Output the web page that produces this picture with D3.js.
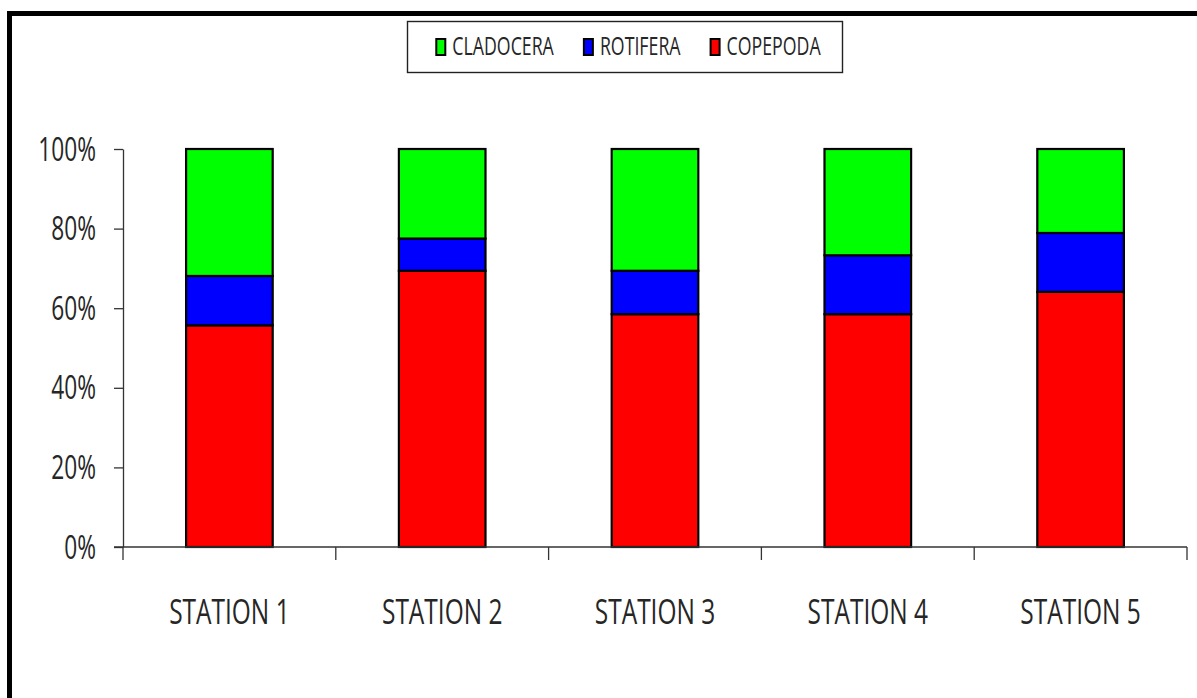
<!DOCTYPE html>
<html>
<head>
<meta charset="utf-8">
<script src="https://cdn.jsdelivr.net/npm/d3@7"></script>
<style>
  html, body { margin: 0; padding: 0; background: #fff; overflow: hidden; }
  svg { display: block; }
  text { font-family: "Open Sans", "DejaVu Sans", sans-serif; fill: #262626; }
</style>
</head>
<body>
<svg id="chart" width="1197" height="698"></svg>
<script>
// ---- data ----
const stations = ["STATION 1", "STATION 2", "STATION 3", "STATION 4", "STATION 5"];
const copepoda = [55.7, 69.4, 58.5, 58.5, 64.1];
const rotifera = [12.4, 8.1, 10.9, 14.8, 14.8];
const cladocera = [31.9, 22.5, 30.6, 26.7, 21.1];
const seriesNames = ["COPEPODA", "ROTIFERA", "CLADOCERA"];      // stack order bottom -> top
const legendOrder = ["CLADOCERA", "ROTIFERA", "COPEPODA"];
const seriesColors = { CLADOCERA: "#00ff00", ROTIFERA: "#0000ff", COPEPODA: "#ff0000" };
const yTicks = [0, 0.2, 0.4, 0.6, 0.8, 1.0];

(function () {
// ---- build table ----
const rows = stations.map((s, i) => ({
  station: s, COPEPODA: copepoda[i], ROTIFERA: rotifera[i], CLADOCERA: cladocera[i]
}));
const stacked = d3.stack().keys(seriesNames).offset(d3.stackOffsetExpand)(rows);

const svg = d3.select("#chart");
const SX = 0.71; // horizontal squeeze of text (narrow font look)

// frame
svg.append("rect")
  .attr("x", 9.5).attr("y", 13.5)
  .attr("width", 1400).attr("height", 1000)
  .attr("fill", "none").attr("stroke", "#000").attr("stroke-width", 5);

const pLeft = 123, pRight = 1187, pTop = 149, pBottom = 547;

const x = d3.scaleBand().domain(stations).range([pLeft, pRight])
  .paddingInner(0.593).paddingOuter(0.2965);
const xb = d3.scaleBand().domain(stations).range([pLeft, pRight]).padding(0);
const y = d3.scaleLinear().domain([0, 1]).range([pBottom, pTop]);

// bars
svg.append("g").selectAll("g")
  .data(stacked).join("g")
  .attr("fill", d => seriesColors[d.key])
  .selectAll("rect")
  .data(d => d).join("rect")
  .attr("x", d => x(d.data.station))
  .attr("width", x.bandwidth())
  .attr("y", d => y(d[1]))
  .attr("height", d => y(d[0]) - y(d[1]))
  .attr("stroke", "#000")
  .attr("stroke-width", 2.2);

// y axis
const yAxis = svg.append("g")
  .attr("transform", `translate(${pLeft},0)`)
  .call(d3.axisLeft(y).tickValues(yTicks).tickSize(9).tickSizeOuter(0).tickFormat(d3.format(".0%")));
yAxis.select(".domain").attr("stroke", "#333").attr("stroke-width", 1.3);
yAxis.selectAll(".tick line").attr("stroke", "#333").attr("stroke-width", 1.3);
yAxis.selectAll(".tick text")
  .attr("x", 0).attr("dy", null)
  .attr("fill", "#262626")
  .attr("font-size", 32)
  .attr("font-family", "'Open Sans', sans-serif")
  .attr("text-anchor", "end")
  .attr("transform", `translate(-27,11) scale(${SX},1)`);

// x axis (ticks at category boundaries)
const xAxisG = svg.append("g").attr("transform", `translate(0,${pBottom})`);
xAxisG.append("line")
  .attr("x1", pLeft - 9).attr("x2", pRight)
  .attr("stroke", "#333").attr("stroke-width", 1.3);
const boundaries = stations.map(s => xb(s)).concat([xb(stations[stations.length - 1]) + xb.bandwidth()]);
xAxisG.selectAll("line.tk").data(boundaries).join("line")
  .attr("class", "tk")
  .attr("x1", d => d).attr("x2", d => d)
  .attr("y1", 0).attr("y2", 13)
  .attr("stroke", "#333").attr("stroke-width", 1.3);
xAxisG.selectAll("text").data(stations).join("text")
  .attr("text-anchor", "middle")
  .attr("font-size", 34)
  .attr("transform", d => `translate(${xb(d) + xb.bandwidth() / 2},${624 - pBottom}) scale(0.72,1)`)
  .text(d => d);

// legend
const lg = svg.append("g");
lg.append("rect")
  .attr("x", 407.5).attr("y", 21.5).attr("width", 435).attr("height", 51)
  .attr("fill", "#fff").attr("stroke", "#222").attr("stroke-width", 1.4);
const entries = lg.selectAll("g.entry").data(legendOrder).join("g").attr("class", "entry");
entries.append("text")
  .attr("font-size", 25)
  .text(d => d);
const widths = [];
entries.select("text").each(function () { widths.push(this.getComputedTextLength() * SX); });
const markerW = 9, markerGap = 7, entryGap = 30;
const total = d3.sum(widths) + legendOrder.length * (markerW + markerGap) + (legendOrder.length - 1) * entryGap;
let cx = 628.5 - total / 2;
entries.each(function (d, i) {
  const g = d3.select(this);
  g.append("rect")
    .attr("x", cx).attr("y", 39).attr("width", markerW).attr("height", 16)
    .attr("fill", seriesColors[d]).attr("stroke", "#000").attr("stroke-width", 2);
  g.select("text")
    .attr("transform", `translate(${cx + markerW + markerGap},55) scale(${SX},1)`);
  cx += markerW + markerGap + widths[i] + entryGap;
});
})();
</script>
</body>
</html>
